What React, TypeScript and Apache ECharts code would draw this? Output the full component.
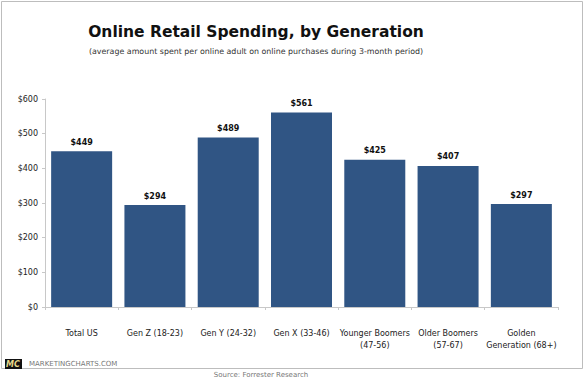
import React, { useEffect, useRef } from "react";
import * as echarts from "echarts";

const categories = [
  "Total US",
  "Gen Z (18-23)",
  "Gen Y (24-32)",
  "Gen X (33-46)",
  "Younger Boomers\n(47-56)",
  "Older Boomers\n(57-67)",
  "Golden\nGeneration (68+)",
];
const spending = [449, 294, 489, 561, 425, 407, 297];
const yTicks = [0, 100, 200, 300, 400, 500, 600];

const FONT = "DejaVu Sans, Verdana, sans-serif";

export default function App() {
  const ref = useRef<HTMLDivElement>(null);
  useEffect(() => {
    if (!ref.current) return;
    const chart = echarts.init(ref.current, undefined, { renderer: "svg" });
    chart.setOption({
      animation: false,
      backgroundColor: "#ffffff",
      title: {
        text: "Online Retail Spending, by Generation",
        subtext: "(average amount spent per online adult on online purchases during 3-month period)",
        left: 251,
        textAlign: "center",
        top: 19,
        itemGap: 7,
        textStyle: { fontFamily: FONT, fontSize: 15.5, fontWeight: "bold", color: "#111" },
        subtextStyle: { fontFamily: FONT, fontSize: 7.9, color: "#333" },
      },
      grid: { left: 45, right: 27, top: 99, bottom: 74 },
      xAxis: {
        type: "category",
        data: categories,
        axisLine: { lineStyle: { color: "#c8c8c8" } },
        axisTick: { show: true, length: 3, lineStyle: { color: "#c8c8c8" } },
        axisLabel: {
          interval: 0,
          margin: 20,
          fontFamily: FONT,
          fontSize: 8,
          color: "#222",
          lineHeight: 12,
        },
      },
      yAxis: {
        type: "value",
        min: yTicks[0],
        max: yTicks[yTicks.length - 1],
        interval: 100,
        splitLine: { show: false },
        axisLine: { show: true, lineStyle: { color: "#c8c8c8" } },
        axisTick: { show: true, length: 3, lineStyle: { color: "#c8c8c8" } },
        axisLabel: {
          margin: 7,
          fontFamily: FONT,
          fontSize: 8,
          color: "#222",
          formatter: (v: number) => "$" + v,
        },
      },
      series: [
        {
          type: "bar",
          data: spending,
          barWidth: 61,
          itemStyle: { color: "#305584" },
          label: {
            show: true,
            position: "top",
            distance: 5,
            fontFamily: FONT,
            fontSize: 8,
            fontWeight: "bold",
            color: "#111",
            formatter: (p: any) => "$" + p.value,
          },
        },
      ],
      graphic: [
        {
          type: "rect",
          shape: { x: 1.5, y: 1.5, width: 581, height: 367 },
          style: { fill: "none", stroke: "#bdbdbd", lineWidth: 1 },
          z: 0,
        },
        {
          type: "rect",
          shape: { x: 5, y: 359, width: 17, height: 10 },
          style: { fill: "#111" },
        },
        {
          type: "text",
          x: 6,
          y: 360,
          style: {
            text: "MC",
            fontFamily: FONT,
            fontSize: 8,
            fontWeight: "bold",
            fontStyle: "italic",
            fill: "#e8d98a",
          },
        },
        {
          type: "text",
          x: 29,
          y: 360,
          style: {
            text: "MARKETINGCHARTS.COM",
            fontFamily: FONT,
            fontSize: 7,
            fill: "#777",
          },
        },
        {
          type: "text",
          x: 261,
          y: 371,
          style: {
            text: "Source: Forrester Research",
            fontFamily: FONT,
            fontSize: 7,
            fill: "#777",
            textAlign: "center",
          },
        },
      ],
    });
    return () => chart.dispose();
  }, []);
  return <div ref={ref} style={{ width: 585, height: 381, position: "absolute", left: 0, top: 0 }} />;
}
